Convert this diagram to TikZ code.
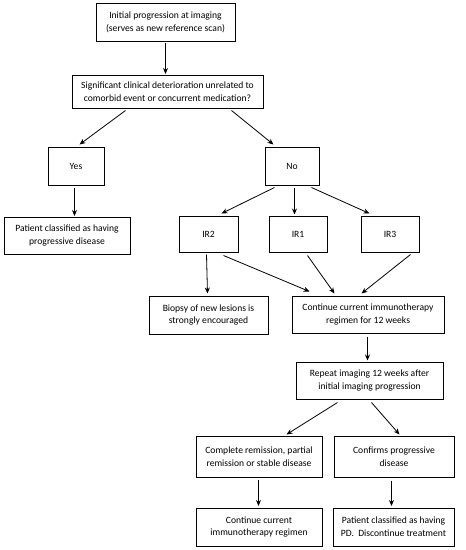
\documentclass[tikz,border=0pt]{standalone}
\usepackage{fontspec}
\setmainfont{Carlito}
\usetikzlibrary{arrows.meta,calc}
\begin{document}
\begin{tikzpicture}[x=1pt,y=-1pt,
  box/.style={draw=black,line width=1pt,fill=white,inner sep=0pt,align=center,
    font=\fontsize{9.6pt}{12.8pt}\selectfont},
  arr/.style={draw=black,line width=0.8pt,-{Stealth[length=6pt,width=5pt]}}]
\useasboundingbox (0,0) rectangle (466,550);
\fill[white] (0,0) rectangle (466,550);
\node[box,minimum width=139pt,minimum height=38pt] (init) at (165.5,22) {Initial progression at imaging\\(serves as new reference scan)};
\node[box,minimum width=191pt,minimum height=33pt] (sig) at (167.5,91.5) {Significant clinical deterioration unrelated to\\comorbid event or concurrent medication?};
\node[box,minimum width=56pt,minimum height=38pt] (yes) at (76,166) {Yes};
\node[box,minimum width=54pt,minimum height=38pt] (no) at (292,166) {No};
\node[box,minimum width=126pt,minimum height=37pt] (pd) at (67,235.5) {Patient classified as having\\progressive disease};
\node[box,minimum width=59pt,minimum height=36pt] (ir2) at (208.5,234) {IR2};
\node[box,minimum width=58pt,minimum height=36pt] (ir1) at (298,234) {IR1};
\node[box,minimum width=58pt,minimum height=36pt] (ir3) at (390,234) {IR3};
\node[box,minimum width=119pt,minimum height=38pt] (bio) at (208.5,315) {Biopsy of new lesions is\\strongly encouraged};
\node[box,minimum width=152pt,minimum height=37pt] (cont) at (368,314.5) {Continue current immunotherapy\\regimen for 12 weeks};
\node[box,minimum width=147pt,minimum height=37pt] (rep) at (369.5,380.5) {Repeat imaging 12 weeks after\\initial imaging progression};
\node[box,minimum width=126pt,minimum height=41pt] (comp) at (259,456.5) {Complete remission, partial\\remission or stable disease};
\node[box,minimum width=120pt,minimum height=41pt] (conf) at (394,456.5) {Confirms progressive\\disease};
\node[box,minimum width=126pt,minimum height=38pt] (cc) at (259,527) {Continue current\\immunotherapy regimen};
\node[box,minimum width=121pt,minimum height=38pt] (pd2) at (393.5,527) {Patient classified as having\\PD.\ \ Discontinue treatment};
% connectors
\draw[arr] ($(init.south)+(0,1.5)$) -- ($(sig.north)+(-2,-0.5)$);
\draw[arr] ($(sig.south west)+(54,2)$) -- ($(yes.north west)+(32,-2)$);
\draw[arr] ($(sig.south west)+(160,2)$) -- ($(no.north west)+(9,-2)$);
\draw[arr] ($(yes.south west)+(27,2)$) -- ($(pd.north west)+(71,-0.5)$);
\draw[arr] ($(no.south west)+(10,2)$) -- ($(ir2.north west)+(43,-2)$);
\draw[arr] ($(no.south west)+(30,2)$) -- ($(ir1.north west)+(26,-1)$);
\draw[arr] ($(no.south west)+(47,2)$) -- ($(ir3.north west)+(9,-2)$);
\draw[arr] ($(ir2.south west)+(28,2)$) -- ($(bio.north west)+(59,-2)$);
\draw[arr] ($(ir2.south west)+(45,3)$) -- ($(cont.north west)+(18,-4)$);
\draw[arr] ($(ir1.south west)+(39,3)$) -- ($(cont.north west)+(43,-2)$);
\draw[arr] ($(ir3.south west)+(50,2)$) -- ($(cont.north west)+(70,-2)$);
\draw[arr] ($(cont.south west)+(76,3)$) -- ($(rep.north west)+(72,-1)$);
\draw[arr] ($(rep.south west)+(42,3)$) -- ($(comp.north west)+(91,-1)$);
\draw[arr] ($(rep.south west)+(76,3)$) -- ($(conf.north west)+(66,-1)$);
\draw[arr] ($(comp.south west)+(63,2)$) -- ($(cc.north west)+(63,-1.5)$);
\draw[arr] ($(conf.south west)+(58,3)$) -- ($(pd2.north west)+(59,-1.5)$);
\end{tikzpicture}
\end{document}
